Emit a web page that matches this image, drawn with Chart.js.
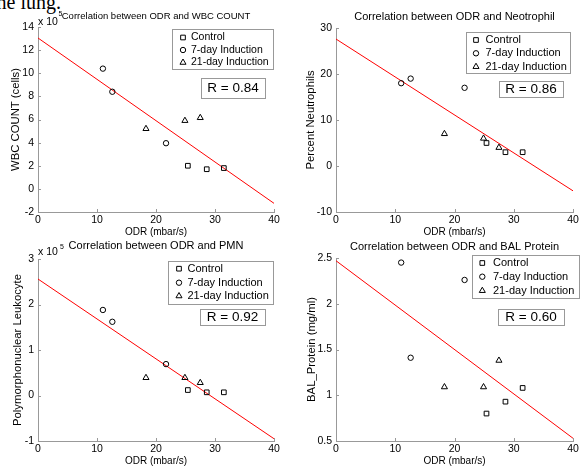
<!DOCTYPE html>
<html>
<head>
<meta charset="utf-8">
<script src="https://cdn.jsdelivr.net/npm/chart.js@4/dist/chart.umd.min.js"></script>
<style>
  html, body { margin: 0; padding: 0; background: #fff; }
  body { width: 588px; height: 468px; position: relative; overflow: hidden; }
  canvas { position: absolute; }
  #caption { position: absolute; left: -9px; top: -8px; font: 20px/20px "Liberation Serif", serif; white-space: nowrap; color: #000; }
</style>
</head>
<body>
<div id="caption">the lung.</div>
<canvas id="c1" width="294" height="240" style="left:0;top:0"></canvas>
<canvas id="c2" width="294" height="240" style="left:294px;top:0"></canvas>
<canvas id="c3" width="294" height="234" style="left:0;top:234px"></canvas>
<canvas id="c4" width="294" height="234" style="left:294px;top:234px"></canvas>
<script>
// shared x values (ODR, mbar/s) for each group
const odrTicks = [0, 10, 20, 30, 40];
const odrControl = [25.4, 28.6, 31.5];
const odrDay7 = [11.0, 12.6, 21.7];
const odrDay21 = [18.3, 24.9, 27.5];
const fitOdr = [0, 40];

const seriesNames = ['Control', '7-day Induction', '21-day Induction'];

// WBC count (x 10^5 cells)
const wbcControl = [2.0, 1.7, 1.8];
const wbcDay7 = [10.4, 8.4, 3.95];
const wbcDay21 = [5.2, 5.9, 6.15];
const wbcFit = [13.05, -1.25];
const wbcTicks = [-2, 0, 2, 4, 6, 8, 10, 12, 14];

// Percent neutrophils
const neuControl = [5, 3, 3];
const neuDay7 = [18, 19, 17];
const neuDay21 = [7, 6, 4];
const neuFit = [27.6, -5.4];
const neuTicks = [-10, 0, 10, 20, 30];

// PMN (x 10^5)
const pmnControl = [0.12, 0.07, 0.07];
const pmnDay7 = [1.88, 1.62, 0.69];
const pmnDay21 = [0.39, 0.39, 0.28];
const pmnFit = [2.56, -0.95];
const pmnTicks = [-1, 0, 1, 2, 3];

// BAL protein (mg/ml)
const balControl = [0.80, 0.93, 1.08];
const balDay7 = [2.45, 1.41, 2.26];
const balDay21 = [1.09, 1.09, 1.38];
const balFit = [2.47, 0.53];
const balTicks = [0.5, 1, 1.5, 2, 2.5];

const FONT = '"Liberation Sans", Arial, Helvetica, sans-serif';
const axisGray = '#999';

const markers = [
    { style: 'rect', radius: 3.3 },
    { style: 'circle', radius: 2.7 },
    { style: 'triangle', radius: 3.5 }
];

function pts(xs, ys) {
    return xs.map((x, i) => ({ x: x, y: ys[i] }));
}

function makePanel(p) {
    const canvas = document.getElementById(p.id);
    const W = canvas.width, H = canvas.height;
    const [L, T, R, B] = p.area;

    // title, exponent, inward ticks, legend box and R box
    const decor = {
        id: 'decor',
        afterDraw(chart) {
            const ctx = chart.ctx;
            const a = chart.chartArea;
            const xs = chart.scales.x, ys = chart.scales.y;
            ctx.save();

            ctx.strokeStyle = axisGray;
            ctx.lineWidth = 1;
            ctx.beginPath();
            xs.ticks.forEach(t => {
                const px = Math.round(xs.getPixelForValue(t.value)) + 0.5;
                ctx.moveTo(px, a.bottom);
                ctx.lineTo(px, a.bottom - 3);
            });
            ys.ticks.forEach(t => {
                const py = Math.round(ys.getPixelForValue(t.value)) + 0.5;
                ctx.moveTo(a.left, py);
                ctx.lineTo(a.left + 3, py);
            });
            ctx.stroke();

            ctx.fillStyle = '#000';
            ctx.textBaseline = 'middle';
            ctx.textAlign = 'center';
            ctx.font = p.titleSize + 'px ' + FONT;
            ctx.fillText(p.title, (a.left + a.right) / 2, p.titleY);

            if (p.exp) {
                ctx.textAlign = 'left';
                ctx.font = '10.5px ' + FONT;
                ctx.fillText('x 10', a.left, p.exp[0]);
                ctx.font = '7px ' + FONT;
                ctx.fillText('5', p.exp[2], p.exp[1]);
            }

            // legend
            const lg = p.legend;
            ctx.strokeStyle = axisGray;
            ctx.strokeRect(lg.box[0] + 0.5, lg.box[1] + 0.5, lg.box[2] - lg.box[0], lg.box[3] - lg.box[1]);
            ctx.textAlign = 'left';
            ctx.font = lg.font + 'px ' + FONT;
            seriesNames.forEach((name, i) => {
                ctx.strokeStyle = '#000';
                ctx.fillStyle = 'rgba(0,0,0,0)';
                ctx.lineWidth = 1;
                Chart.helpers.drawPoint(ctx, { pointStyle: markers[i].style, radius: markers[i].radius, borderWidth: 1, rotation: 0 }, lg.mx, lg.rows[i]);
                ctx.fillStyle = '#000';
                ctx.fillText(name, lg.tx, lg.rows[i]);
            });

            // R box
            const rb = p.rBox;
            ctx.strokeStyle = axisGray;
            ctx.strokeRect(rb[0] + 0.5, rb[1] + 0.5, rb[2] - rb[0], rb[3] - rb[1]);
            ctx.textAlign = 'center';
            ctx.font = '13.5px ' + FONT;
            ctx.fillText('R = ' + p.r, (rb[0] + rb[2]) / 2, (rb[1] + rb[3]) / 2 + 0.5);

            ctx.restore();
        }
    };

    const pointSet = (i, data) => ({
        data: data,
        showLine: false,
        pointStyle: markers[i].style,
        pointRadius: markers[i].radius,
        pointBorderWidth: 1,
        pointBorderColor: '#000',
        pointBackgroundColor: 'rgba(0,0,0,0)'
    });

    return new Chart(canvas, {
        type: 'scatter',
        data: {
            datasets: [
                pointSet(0, pts(odrControl, p.ys[0])),
                pointSet(1, pts(odrDay7, p.ys[1])),
                pointSet(2, pts(odrDay21, p.ys[2])),
                {
                    data: pts(fitOdr, p.fit),
                    showLine: true,
                    borderColor: '#ff0000',
                    borderWidth: 1,
                    pointRadius: 0
                }
            ]
        },
        options: {
            responsive: false,
            animation: false,
            events: [],
            layout: { padding: { left: 0, top: T, right: W - R, bottom: 0 } },
            plugins: { legend: { display: false }, tooltip: { enabled: false } },
            scales: {
                x: {
                    type: 'linear',
                    min: 0,
                    max: 40,
                    afterBuildTicks: s => { s.ticks = odrTicks.map(v => ({ value: v })); },
                    afterFit: s => { s.height = H - B; },
                    grid: { display: false, drawTicks: false },
                    border: { display: true, color: axisGray },
                    ticks: { font: { family: FONT, size: 10.5 }, color: '#000', padding: 2, maxRotation: 0, autoSkip: false, callback: v => String(v) },
                    title: { display: true, text: 'ODR (mbar/s)', color: '#000', font: { family: FONT, size: 10 }, padding: { top: 0, bottom: p.xTitlePad } }
                },
                y: {
                    type: 'linear',
                    min: p.yTicks[0],
                    max: p.yTicks[p.yTicks.length - 1],
                    afterBuildTicks: s => { s.ticks = p.yTicks.map(v => ({ value: v })); },
                    afterFit: s => { s.width = L; },
                    grid: { display: false, drawTicks: false },
                    border: { display: true, color: axisGray },
                    ticks: { font: { family: FONT, size: 10.5 }, color: '#000', padding: 4, autoSkip: false, callback: v => String(v) },
                    title: { display: true, text: p.yTitle, color: '#000', font: { family: FONT, size: 11.3 }, padding: { top: p.yTitlePad, bottom: 0 } }
                }
            }
        },
        plugins: [decor]
    });
}

makePanel({
    id: 'c1', area: [38, 27, 274, 212],
    title: 'Correlation between ODR and WBC COUNT', titleSize: 9.5, titleY: 16,
    exp: [21.7, 14.5, 58.5],
    yTitle: 'WBC COUNT (cells)', yTitlePad: 9, xTitlePad: 2,
    ys: [wbcControl, wbcDay7, wbcDay21], fit: wbcFit, yTicks: wbcTicks,
    legend: { box: [172, 29, 273, 69], rows: [37.5, 50, 62.5], mx: 183, tx: 191, font: 10.5 },
    rBox: [201, 78, 265, 98], r: '0.84'
});

makePanel({
    id: 'c2', area: [42, 28, 279, 212],
    title: 'Correlation between ODR and Neotrophil', titleSize: 11, titleY: 16.7,
    exp: null,
    yTitle: 'Percent Neutrophils', yTitlePad: 10, xTitlePad: 2,
    ys: [neuControl, neuDay7, neuDay21], fit: neuFit, yTicks: neuTicks,
    legend: { box: [172, 32, 276, 73], rows: [40, 53.3, 66.7], mx: 182, tx: 191.5, font: 11 },
    rBox: [205, 81, 269, 97], r: '0.86'
});

makePanel({
    id: 'c3', area: [38, 25, 274, 207],
    title: 'Correlation between ODR and PMN', titleSize: 11, titleY: 12,
    exp: [18.3, 13.5, 60],
    yTitle: 'Polymorphonuclear Leukocyte', yTitlePad: 11.3, xTitlePad: 1,
    ys: [pmnControl, pmnDay7, pmnDay21], fit: pmnFit, yTicks: pmnTicks,
    legend: { box: [168, 27, 273, 70], rows: [34.7, 48.7, 62], mx: 179, tx: 187.5, font: 11 },
    rBox: [200, 75, 265, 91], r: '0.92'
});

makePanel({
    id: 'c4', area: [42, 24, 279, 207],
    title: 'Correlation between ODR and BAL Protein', titleSize: 11, titleY: 12.7,
    exp: null,
    yTitle: 'BAL_Protein (mg/ml)', yTitlePad: 11.3, xTitlePad: 1,
    ys: [balControl, balDay7, balDay21], fit: balFit, yTicks: balTicks,
    legend: { box: [178, 21, 285, 64], rows: [29, 42.7, 56.7], mx: 188.3, tx: 199, font: 11 },
    rBox: [204, 75, 270, 91], r: '0.60'
});
</script>
</body>
</html>
